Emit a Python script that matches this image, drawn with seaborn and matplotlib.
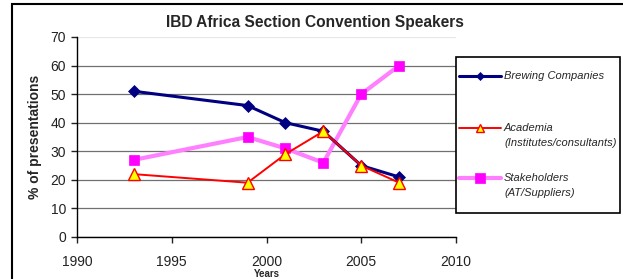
import matplotlib
matplotlib.use("Agg")
import matplotlib.pyplot as plt
import seaborn as sns
import pandas as pd
from matplotlib.lines import Line2D
from matplotlib.patches import Rectangle

years = [1993, 1999, 2001, 2003, 2005, 2007]
brewing = [51, 46, 40, 37, 25, 21]
academia = [22, 19, 29, 37, 25, 19]
stakeholders = [27, 35, 31, 26, 50, 60]
labels = [["Brewing Companies"], ["Academia", "(Institutes/consultants)"],
          ["Stakeholders", "(AT/Suppliers)"]]
title = "IBD Africa Section Convention Speakers"
xticks = [1990, 1995, 2000, 2005, 2010]
yticks = [0, 10, 20, 30, 40, 50, 60, 70]

sns.set_theme(style="white")
plt.rcParams["font.family"] = ["Liberation Sans", "DejaVu Sans"]

W, H = 623, 279
fig = plt.figure(figsize=(W/100, H/100), dpi=100)
ax = fig.add_axes([77/W, 42/H, 379/W, 200/H])

df = pd.DataFrame({"year": years, "b": brewing, "a": academia, "s": stakeholders})

styles = [
    dict(color="#000080", linewidth=2.2, marker="D", markersize=6.5,
         markerfacecolor="#000080", markeredgecolor="#000080", markeredgewidth=0.5),
    dict(color="#FF0000", linewidth=1.4, marker="^", markersize=8,
         markerfacecolor="#FFFF00", markeredgecolor="#FF0000", markeredgewidth=1),
    dict(color="#FF80FF", linewidth=3, marker="s", markersize=6.5,
         markerfacecolor="#FF00FF", markeredgecolor="#FF00FF", markeredgewidth=0.5),
]

sns.lineplot(data=df, x="year", y="s", ax=ax, zorder=3, **styles[2])
sns.lineplot(data=df, x="year", y="b", ax=ax, zorder=4, **styles[0])
sns.lineplot(data=df, x="year", y="a", ax=ax, zorder=5, **styles[1])

ax.set_xlim(1990, 2010)
ax.set_ylim(0, 70)
ax.set_xticks(xticks)
ax.set_yticks(yticks)
ax.tick_params(axis="both", labelsize=10, colors="#222222", length=4, width=1,
               direction="out", pad=4, bottom=True, left=True)
ax.tick_params(axis="x", pad=9)
for sp in ["top", "right"]:
    ax.spines[sp].set_visible(False)
for sp in ["left", "bottom"]:
    ax.spines[sp].set_color("black")
    ax.spines[sp].set_linewidth(1)
ax.yaxis.grid(True, color="#707070", linewidth=0.9)
ax.get_ygridlines()[-1].set_color("#e8e8e8")
ax.set_axisbelow(True)

ax.set_xlabel("Years", fontsize=7, fontweight="bold", labelpad=0)
ax.set_ylabel("% of presentations", fontsize=10, fontweight="bold", labelpad=6)
fig.text(315/W, 1 - 22/H, title, fontsize=11.2, fontweight="bold",
         ha="center", va="center")

# legend box (drawn manually so handles align with the first text line)
fig.patches.append(Rectangle((456/W, 1 - 213/H), 164/W, 156/H,
                             transform=fig.transFigure, facecolor="white",
                             edgecolor="black", linewidth=1.2, zorder=10))
row_y = [76, 128, 178]
hsizes = [4, 5.5, 7]
for st, lab, yy, ms in zip(styles, labels, row_y, hsizes):
    kw = dict(st)
    kw["markersize"] = ms
    fig.add_artist(Line2D([459/W, 480/W, 501/W], [1 - yy/H] * 3,
                          transform=fig.transFigure, markevery=[1], zorder=11, **kw))
    for i, t in enumerate(lab):
        fig.text(504/W, 1 - (yy + i*15)/H, t, fontsize=8, style="italic",
                 ha="left", va="center", zorder=12)

# outer chart border
fig.patches.append(Rectangle((12/W, -0.1), 1.2, 1 - 4/H + 0.1,
                             transform=fig.transFigure, fill=False,
                             edgecolor="black", linewidth=1.5))

fig.savefig("out.png", dpi=100)
